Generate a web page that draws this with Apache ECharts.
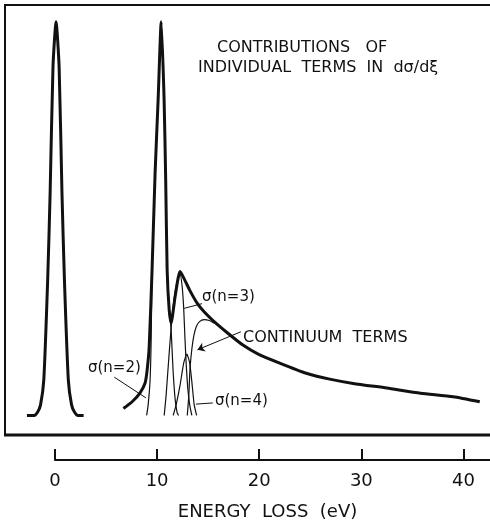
<!DOCTYPE html>
<html>
<head>
<meta charset="utf-8">
<script src="https://cdn.jsdelivr.net/npm/echarts@6/dist/echarts.min.js"></script>
<style>
  html, body { margin: 0; padding: 0; background: #fff; overflow: hidden; }
  #main { width: 490px; height: 529px; }
</style>
</head>
<body>
<div id="main"></div>
<script>
    // energy loss (eV), intensity (peak = 100)
    var elasticPeak = [[-2.75, 0], [-2.05, 0], [-1.7, 0.9], [-1.42, 2.7], [-1.1, 9.1], [-0.72, 34.7],
        [-0.48, 56.9], [-0.2, 89.2], [0.1, 100.7], [0.4, 89.2], [0.68, 56.9], [0.92, 34.7],
        [1.3, 9.1], [1.62, 2.7], [1.9, 0.9], [2.25, 0], [2.8, 0]];
    var totalCurve = [[6.7, 1.8], [7.55, 3.5], [8.33, 5.8], [8.82, 8.3], [9.02, 11.6], [9.22, 17.5],
        [9.5, 37], [9.8, 62], [10.1, 81], [10.4, 100.7], [10.68, 81], [10.84, 60],
        [10.98, 37.2], [11.18, 27], [11.37, 23.7], [11.76, 30.4], [12.06, 35.2], [12.25, 36.8],
        [12.6, 35.2], [13.2, 32.0], [13.9, 28.8], [14.6, 26.5], [15.5, 24.2], [16.9, 21.1],
        [18.4, 18.0], [19.9, 15.7], [22.0, 13.4], [24.6, 10.8], [26.9, 9.3], [29.2, 8.2],
        [32.5, 7.0], [35.8, 5.7], [39.0, 4.8], [41.6, 3.5]];
    var termN2 = [[8.97, 0], [9.12, 2.7], [9.31, 9.1], [9.42, 20], [9.5, 37], [9.8, 62],
        [10.1, 81], [10.4, 100.7], [10.68, 81], [10.84, 60], [10.98, 37.2], [11.2, 27],
        [11.37, 22], [11.55, 12], [11.75, 4.5], [11.95, 0.8], [12.1, 0]];
    var termN3 = [[10.69, 0], [10.88, 5.2], [11.13, 14.2], [11.42, 23.9], [11.76, 31.6], [12.06, 35.2],
        [12.25, 36.0], [12.45, 33.0], [12.6, 27.5], [12.72, 20], [12.85, 13], [13.0, 7],
        [13.2, 2.5], [13.4, 0]];
    var termN4 = [[11.57, 0], [11.86, 2.7], [12.25, 7.8], [12.6, 13.4], [12.91, 15.7], [13.19, 13.4],
        [13.43, 7.8], [13.63, 2.7], [13.87, 0]];
    var continuum = [[12.95, 0], [13.1, 5], [13.22, 12], [13.4, 17], [13.6, 20.5], [13.85, 22.8],
        [14.15, 24.0], [14.6, 24.5], [15.1, 24.3], [15.6, 23.6]];
    var xTicks = [0, 10, 20, 30, 40];

    var ink = '#111';
    var font = '"DejaVu Sans", sans-serif';

    function thinLine(name, data, extra) {
        var s = {
            name: name,
            type: 'line',
            data: data,
            smooth: 0.2,
            showSymbol: false,
            lineStyle: { color: ink, width: 1.2 },
            z: 2
        };
        for (var k in extra) s[k] = extra[k];
        return s;
    }

    var leaderStyle = { color: ink, width: 1, type: 'solid' };
    var hiddenAxis = {
        axisLine: { show: false }, axisTick: { show: false },
        axisLabel: { show: false }, splitLine: { show: false }
    };

    var chart = echarts.init(document.getElementById('main'));
    var option = {
        backgroundColor: '#fff',
        animation: false,
        grid: [
            { left: 5, right: 0, top: 5, bottom: 94, outerBoundsMode: 'none', borderWidth: 0, borderColor: 'transparent' },
            { left: 55, right: 0, top: 455, bottom: 69, outerBoundsMode: 'none', borderWidth: 0, borderColor: 'transparent' }
        ],
        xAxis: [
            Object.assign({ type: 'value', gridIndex: 0, min: -4.9, max: 42.6 }, hiddenAxis),
            {
                type: 'value', gridIndex: 1, min: xTicks[0], max: 42.6, interval: 10,
                name: 'ENERGY  LOSS  (eV)', nameLocation: 'middle', nameGap: 43,
                nameTextStyle: { color: ink, fontSize: 18, fontFamily: font, padding: [0, 10, 0, 0] },
                axisLine: { onZero: false, lineStyle: { color: ink, width: 2 } },
                axisTick: { inside: true, length: 11, customValues: xTicks, lineStyle: { color: ink, width: 2 } },
                axisLabel: { color: ink, fontSize: 18, fontFamily: font, margin: 12, customValues: xTicks },
                splitLine: { show: false }
            }
        ],
        yAxis: [
            Object.assign({ type: 'value', gridIndex: 0, min: -5, max: 105 }, hiddenAxis),
            { type: 'value', gridIndex: 1, show: false, min: 0, max: 1 }
        ],
        series: [
            {
                name: 'elastic',
                type: 'line',
                data: elasticPeak,
                smooth: 0.2,
                showSymbol: false,
                lineStyle: { color: ink, width: 3 },
                z: 3
            },
            {
                name: 'total',
                type: 'line',
                data: totalCurve,
                smooth: 0.2,
                showSymbol: false,
                lineStyle: { color: ink, width: 3 },
                z: 3
            },
            thinLine('n=2', termN2, {
                markLine: {
                    silent: true, symbol: 'none', lineStyle: leaderStyle, label: { show: false },
                    data: [[{ coord: [5.8, 9.8] }, { coord: [8.9, 4.5] }]]
                }
            }),
            thinLine('n=3', termN3, {
                markLine: {
                    silent: true, symbol: 'none', lineStyle: leaderStyle, label: { show: false },
                    data: [[{ coord: [14.4, 28.6] }, { coord: [12.65, 27.4] }]]
                }
            }),
            thinLine('n=4', termN4, {
                markLine: {
                    silent: true, symbol: 'none', lineStyle: leaderStyle, label: { show: false },
                    data: [[{ coord: [15.45, 3.2] }, { coord: [13.8, 2.9] }]]
                }
            }),
            thinLine('continuum', continuum, {
                markLine: {
                    silent: true, symbol: ['none', 'arrow'], symbolSize: 7,
                    lineStyle: leaderStyle, label: { show: false },
                    data: [[{ coord: [18.2, 21.4] }, { coord: [13.95, 16.8] }]]
                }
            })
        ],
        graphic: [
            // plot frame, open on the right
            { type: 'polyline', shape: { points: [[490, 5], [5, 5], [5, 435]] }, style: { stroke: ink, lineWidth: 2, fill: null } },
            { type: 'line', shape: { x1: 4, y1: 435, x2: 490, y2: 435 }, style: { stroke: ink, lineWidth: 3 } },
            { type: 'text', x: 217, y: 48, style: { text: 'CONTRIBUTIONS   OF', font: '16px ' + font, fill: ink, verticalAlign: 'middle' } },
            { type: 'text', x: 198, y: 68, style: { text: 'INDIVIDUAL  TERMS  IN  dσ/dξ', font: '16px ' + font, fill: ink, verticalAlign: 'middle' } },
            { type: 'text', x: 202, y: 297, style: { text: 'σ(n=3)', font: '15px ' + font, fill: ink, verticalAlign: 'middle' } },
            { type: 'text', x: 243, y: 338, style: { text: 'CONTINUUM  TERMS', font: '16px ' + font, fill: ink, verticalAlign: 'middle' } },
            { type: 'text', x: 88, y: 368, style: { text: 'σ(n=2)', font: '15px ' + font, fill: ink, verticalAlign: 'middle' } },
            { type: 'text', x: 215, y: 401, style: { text: 'σ(n=4)', font: '15px ' + font, fill: ink, verticalAlign: 'middle' } }
        ]
    };
    chart.setOption(option);
</script>
</body>
</html>
